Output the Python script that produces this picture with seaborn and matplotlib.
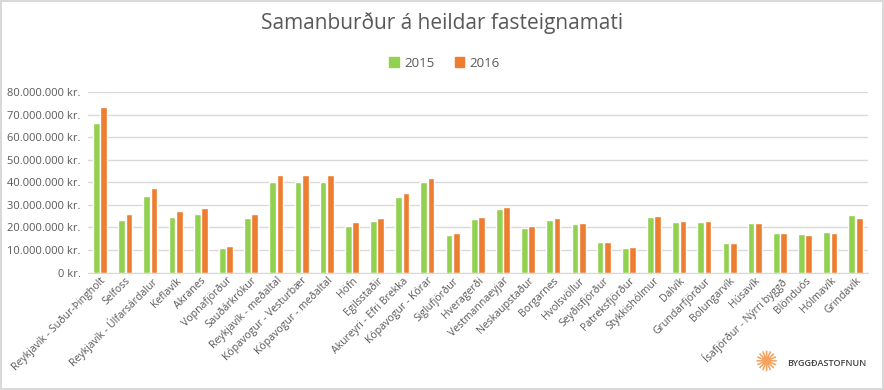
import pandas as pd
import seaborn as sns
from matplotlib import pyplot as plt
from matplotlib.ticker import FuncFormatter

places = ["Reykjavík - Suður-Þingholt", "Selfoss", "Reykjavík - Úlfarsárdalur", "Keflavík",
          "Akranes", "Vopnafjörður", "Sauðárkrókur", "Reykjavík - meðaltal",
          "Kópavogur - Vesturbær", "Kópavogur - meðaltal", "Höfn", "Egilsstaðir",
          "Akureyri - Efri Brekka", "Kópavogur - Kórar", "Siglufjörður", "Hveragerði",
          "Vestmannaeyjar", "Neskaupstaður", "Borgarnes", "Hvolsvöllur", "Seyðisfjörður",
          "Patreksfjörður", "Stykkishólmur", "Dalvík", "Grundarfjörður", "Bolungarvík",
          "Húsavík", "Ísafjörður - Nýrri byggð", "Blönduós", "Hólmavík", "Grindavík"]

# millions of kr.
values_2015 = [66.4, 23.3, 34.0, 24.8, 26.0, 10.9, 24.4, 40.0,
               40.0, 40.0, 20.7, 22.9, 33.5, 40.0, 16.7, 23.8,
               28.2, 19.8, 23.3, 21.5, 13.6, 10.9, 24.7, 22.5,
               22.5, 13.1, 22.0, 17.6, 17.1, 18.0, 25.6]
values_2016 = [73.5, 25.9, 37.5, 27.3, 28.6, 11.8, 26.0, 43.4,
               43.4, 43.4, 22.5, 24.4, 35.3, 41.8, 17.6, 24.7,
               29.1, 20.7, 24.2, 22.0, 13.6, 11.3, 25.1, 22.9,
               22.9, 13.1, 22.0, 17.6, 16.7, 17.6, 24.2]
years = ["2015", "2016"]

df = pd.DataFrame({
    "place": places * 2,
    "year": [years[0]] * len(places) + [years[1]] * len(places),
    "value": [v * 1e6 for v in values_2015 + values_2016],
})

sns.set_style("white")
plt.rcParams["font.family"] = ["Open Sans", "DejaVu Sans"]

fig = plt.figure(figsize=(8.84, 3.9), dpi=100)
ax = fig.add_axes([0.099, 0.301, 0.883, 0.463])

sns.barplot(data=df, x="place", y="value", hue="year",
            palette=["#92D050", "#ED7D31"], width=0.58, gap=0.08,
            saturation=1, ax=ax, legend=False)

ax.set_ylim(0, 80e6)
ax.set_yticks(range(0, 80_000_001, 10_000_000))
ax.yaxis.set_major_formatter(FuncFormatter(lambda v, p: f"{int(v):,} kr.".replace(",", ".")))
ax.set_xlim(-0.5, len(places) - 0.5)
ax.grid(axis="y", color="#d9d9d9", linewidth=1)
ax.set_axisbelow(True)
for s in ["top", "right", "left"]:
    ax.spines[s].set_visible(False)
ax.spines["bottom"].set_color("#d9d9d9")
ax.tick_params(axis="both", length=0, colors="#595959")
ax.tick_params(axis="y", labelsize=8, pad=5)
ax.tick_params(axis="x", labelsize=7.6, pad=2)
plt.setp(ax.get_xticklabels(), rotation=45, ha="right", rotation_mode="anchor")
ax.set_xlabel("")
ax.set_ylabel("")

handles = [plt.Rectangle((0, 0), 1, 1, color=c) for c in ["#92D050", "#ED7D31"]]
fig.legend(handles, years, loc="center", bbox_to_anchor=(0.503, 0.838), ncol=2,
           frameon=False, fontsize=9.5, handlelength=0.7, handleheight=0.7,
           columnspacing=1.6, handletextpad=0.4, labelcolor="#595959")

fig.suptitle("Samanburður á heildar fasteignamati", y=0.968, fontsize=15,
             color="#595959")

# logo
fig.text(0.867, 0.069, "✺", color="#F4A460", fontsize=20, ha="center", va="center",
         family=["DejaVu Sans"])
fig.text(0.89, 0.069, "BYGGÐASTOFNUN", color="#404040", fontsize=6.5, ha="left",
         va="center", weight="semibold")

fig.patch.set_edgecolor("#d9d9d9")
fig.patch.set_linewidth(1.5)

fig.savefig("out.png", dpi=100)
